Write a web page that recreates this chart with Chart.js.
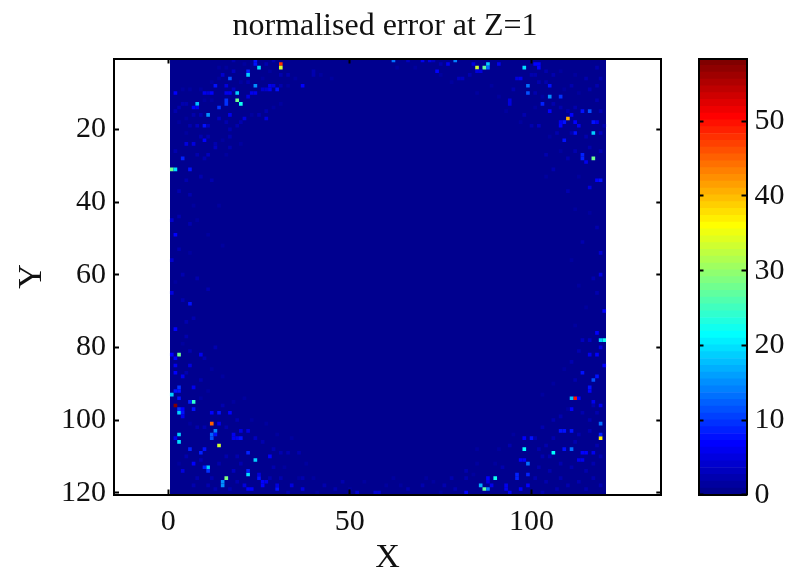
<!DOCTYPE html>
<html>
<head>
<meta charset="utf-8">
<script src="https://cdn.jsdelivr.net/npm/chart.js@4/dist/chart.umd.min.js"></script>
<style>
html, body { margin: 0; padding: 0; background: #fff; }
#wrap { position: relative; width: 801px; height: 572px; overflow: hidden; }
canvas { position: absolute; top: 0; }
</style>
</head>
<body>
<div id="wrap">
<canvas id="main" width="770" height="572" style="left:0"></canvas>
<canvas id="bar" width="121" height="572" style="left:680px"></canvas>
</div>
<script>
// cells: [column, row, error]. everything else is the background level
var cellsTopLeft = [
	[31,2,48],[31,3,33],[25,3,20],[24,1,8],[24,2,8],[22,5,19],[22,4,9],[17,6,11],[24,8,15],[13,8,8],
	[19,10,19],[19,12,28],[20,13,22],[16,12,10],[16,13,10],[8,13,18],[11,16,15],[14,14,10],[2,10,7],
	[10,10,6],[12,10,7],[11,10,5],[10,19,8],[10,23,7],[17,16,6],[27,17,5],[21,17,5],[30,9,8],[28,8,6],
	[28,9,6],[29,8,5],[27,9,4],[26,9,4],[23,10,6],[24,10,6],[22,11,5],[16,8,5],[17,10,6],[16,10,6],
	[18,4,3],[15,5,4],[18,1,2],[5,24,5],[7,24,5],[4,28,9],[13,25,3],[11,27,3],[7,14,7],[8,14,6],[18,9,3],
	[4,13,2],[5,13,2],[3,14,2],[2,15,2],[7,16,2],[9,16,2],[5,17,1],[3,18,1],[6,19,2],[8,19,3],[11,19,3],
	[14,17,3],[16,18,2],[19,19,2],[17,20,2],[20,18,2],[25,16,2],[23,16,1],[27,15,2],[5,21,1],[9,22,2],
	[11,22,2],[13,24,2],[15,23,1],[17,22,2],[20,24,1],[17,25,2],[2,26,2],[8,27,2],[10,28,2],[16,27,1],
	[14,6,1],[12,7,1],[9,9,1],[6,9,1],[4,9,1],[16,3,1],[14,3,1],[27,2,2],[29,1,2],[33,5,2],[31,5,2],
	[31,8,2],[33,8,1],[31,13,1],[29,14,1],[28,4,1],[26,6,1],[21,2,1],[12,12,1],[10,12,1],[22,7,2],[20,7,1]
];
var cellsTopRight = [
	[62,1,13],[79,1,14],[70,1,6],[77,2,6],[85,3,33],[87,3,27],[88,2,19],[88,3,13],[98,3,20],[101,2,7],
	[102,3,7],[102,2,7],[74,4,7],[85,4,5],[86,4,5],[91,2,6],[84,2,5],[99,8,13],[99,10,11],[105,8,8],
	[105,11,15],[108,11,10],[103,13,9],[105,15,7],[114,15,8],[116,15,11],[110,17,41],[111,16,7],[109,18,8],
	[108,18,6],[112,18,7],[117,18,8],[118,18,6],[108,19,7],[113,19,6],[112,21,8],[117,21,19],[109,23,8],
	[114,27,9],[114,28,9],[117,28,28],[94,12,5],[94,13,5],[97,6,6],[96,6,5],[80,6,3],[81,6,3],[100,5,2],
	[101,5,2],[40,4,2],[40,5,2],[37,8,7],[35,6,1],[42,5,1],[45,6,1],[66,1,3],[72,1,5],[73,1,3],[75,2,2],
	[83,5,2],[78,7,1],[75,5,1],[68,3,1],[63,3,1],[104,4,2],[106,5,2],[108,4,1],[112,5,1],[115,6,2],[118,3,2],
	[119,6,2],[118,8,2],[116,9,2],[113,10,1],[111,8,2],[109,9,1],[104,7,2],[102,7,2],[101,10,2],[103,11,1],
	[106,13,2],[108,14,2],[110,15,2],[112,14,2],[118,12,2],[119,15,2],[120,19,2],[119,21,3],[115,22,2],[111,21,2],
	[107,21,2],[105,22,1],[102,19,3],[100,19,2],[116,25,2],[112,26,2],[108,26,1],[104,27,2],[110,28,2],[119,26,2],
	[95,9,2],[91,11,1],[93,15,1],[98,16,2],[101,14,1],[97,18,1],[89,8,1],[85,10,1]
];
var cellsBottomLeft = [
	[1,93,19],[2,92,8],[3,92,8],[3,94,8],[7,95,24],[6,95,9],[2,96,58],[3,98,19],[3,97,10],[4,98,8],[4,97,7],
	[4,99,6],[7,97,8],[12,98,7],[14,98,8],[17,98,7],[12,101,45],[14,101,6],[13,103,14],[12,104,12],[12,105,11],
	[13,104,8],[3,104,19],[3,106,20],[2,105,6],[14,107,33],[6,108,9],[10,108,8],[9,109,9],[24,111,19],[22,109,9],
	[28,110,7],[20,105,8],[19,105,6],[20,103,5],[22,103,5],[18,104,6],[18,105,6],[7,112,7],[11,113,19],[10,113,9],
	[11,114,10],[4,114,5],[22,115,20],[22,114,9],[16,116,29],[15,117,15],[15,118,15],[25,116,8],[25,115,5],
	[26,117,7],[26,118,7],[27,117,6],[30,119,8],[30,118,5],[23,119,7],[22,119,7],[34,118,5],[37,119,5],[48,117,2],
	[21,118,5],[52,120,4],[57,120,4],[58,120,4],[24,105,3],[26,106,2],[29,108,2],[31,109,2],[33,109,2],[36,109,2],
	[16,110,2],[19,110,2],[20,112,2],[14,112,2],[9,111,2],[5,110,2],[3,112,1],[8,116,2],[12,116,2],[18,114,3],
	[13,119,2],[11,118,2],[7,118,2],[17,119,2],[19,117,2],[29,113,2],[32,113,1],[28,116,2],[37,116,2],[40,116,1],
	[43,118,2],[46,119,2],[41,120,1],[33,120,2],[36,116,1],[31,116,2],[8,102,2],[10,102,2],[6,101,1],[16,102,2],
	[19,100,2],[23,100,1],[15,96,2],[18,95,1],[21,94,1],[9,94,1],[11,92,1],[27,101,1],[30,104,1],[34,105,1],[38,112,1],
	[54,117,1],[60,118,1],[50,119,1]
];
var cellsBottomRight = [
	[111,94,18],[112,94,50],[113,94,7],[116,92,7],[117,95,6],[111,97,7],[119,96,6],[119,101,13],[119,104,9],
	[119,105,37],[109,103,8],[108,103,8],[111,103,8],[98,105,7],[100,105,8],[98,108,21],[106,109,21],[111,108,13],
	[109,108,8],[115,109,7],[114,109,7],[117,109,6],[113,111,6],[114,111,6],[99,112,13],[97,111,7],[98,111,7],[99,115,9],
	[96,115,9],[96,116,9],[90,116,22],[88,116,7],[88,117,5],[86,118,17],[87,119,27],[88,119,14],[89,118,6],[93,118,6],
	[93,119,6],[97,119,7],[99,118,7],[82,114,2],[82,116,2],[66,119,2],[82,120,7],[94,120,6],[104,107,2],[102,108,2],
	[103,110,2],[105,110,2],[101,105,2],[106,105,2],[103,102,2],[106,100,2],[108,99,2],[110,97,1],[114,98,2],[116,100,2],
	[117,96,2],[118,98,2],[113,104,2],[116,103,2],[118,107,2],[112,106,2],[119,110,2],[117,112,2],[115,114,2],[111,113,2],
	[108,112,2],[105,114,2],[102,113,2],[101,116,2],[104,117,2],[108,116,2],[110,118,2],[113,117,2],[117,116,2],[119,118,2],
	[115,119,2],[107,119,2],[103,120,2],[92,113,2],[90,112,1],[85,112,1],[84,115,1],[78,116,2],[76,118,2],[73,117,1],
	[71,116,1],[70,118,2],[64,118,1],[62,116,1],[75,120,1],[79,119,2],[91,108,1],[94,107,2],[85,108,1],[95,104,1]
];
var cellsEdges = [
	[1,31,28],[2,31,20],[6,31,8],[2,49,7],[6,68,8],[2,75,7],[3,82,28],[1,82,7],[9,82,6],[6,81,2],[2,83,7],[2,85,6],[2,87,7],
	[4,88,6],[6,85,5],[1,65,5],[1,56,4],[1,45,4],[7,91,6],[3,91,10],[5,34,2],[9,33,2],[12,34,2],[3,37,2],[6,38,2],[7,41,1],
	[3,44,2],[6,46,2],[8,45,1],[14,41,1],[3,53,2],[6,54,1],[11,49,1],[15,52,1],[4,60,2],[8,61,2],[2,62,1],[11,64,2],[4,67,2],
	[5,73,2],[7,72,2],[5,77,2],[4,79,1],[13,80,2],[10,83,2],[5,87,2],[12,86,1],[15,88,1],[9,89,2],[118,34,7],[119,34,8],
	[115,29,6],[116,36,5],[120,70,7],[118,76,7],[119,78,19],[120,78,22],[114,78,3],[116,78,3],[119,80,5],[116,82,6],[118,82,7],
	[120,85,7],[114,87,8],[117,89,11],[118,88,8],[116,91,8],[119,60,5],[119,54,4],[110,37,2],[113,33,1],[106,31,2],[104,33,1],
	[116,43,1],[112,42,1],[118,47,2],[114,51,2],[111,56,1],[117,61,2],[113,63,1],[118,65,2],[115,69,1],[112,74,1],[113,81,2],
	[111,84,2],[109,86,1],[112,89,2],[106,90,1],[103,93,1]
];
var xTicks = [0, 50, 100];
var yTicks = [20, 40, 60, 80, 100, 120];
var colorTicks = [0, 10, 20, 30, 40, 50];
var colorMax = 58.4;
var backgroundError = 0.5;
var colorEdges = [0,.91,1.83,2.74,3.65,4.56,5.48,6.39,7.3,8.21,9.13,10.04,10.95,11.86,12.78,13.69,14.6,15.51,16.43,17.34,18.25,19.16,20.08,20.99,21.9,22.81,23.73,24.64,25.55,26.46,27.38,28.29,29.2,30.11,31.03,31.94,32.85,33.76,34.68,35.59,36.5,37.41,38.33,39.24,40.15,41.06,41.98,42.89,43.8,44.71,45.63,46.54,47.45,48.36,49.28,50.19,51.1,52.01,52.93,53.84,54.75,55.66,56.58,57.49,58.4];

var serif = '"Liberation Serif", "Times New Roman", serif';

// matlab style jet with 64 levels
function jet(v) {
	var idx = Math.min(63, Math.floor(v / colorMax * 64));
	var t = (idx + 1) / 64;
	var c = function (x) { return Math.round(255 * Math.max(0, Math.min(1, 1.5 - Math.abs(x)))); };
	return 'rgb(' + c(4 * t - 3) + ',' + c(4 * t - 2) + ',' + c(4 * t - 1) + ')';
}

var cells = cellsTopLeft.concat(cellsTopRight, cellsBottomLeft, cellsBottomRight, cellsEdges);
// low values first so the bright cells stay on top
cells.sort(function (a, b) { return b[2] - a[2]; });

function tickSetter(values) {
	return function (scale) {
		scale.ticks = values.map(function (v) { return { value: v }; });
	};
}
function fixedWidth(w) { return function (scale) { scale.width = w; }; }
function fixedHeight(h) { return function (scale) { scale.height = h; }; }

var edgeGrid = { drawOnChartArea: false, tickLength: -5, tickWidth: 2, tickColor: '#000', z: 1 };
var edgeBorder = { display: true, color: '#000', width: 2, z: 1 };

new Chart(document.getElementById('main'), {
	type: 'scatter',
	data: {
		datasets: [
			{
				label: 'error',
				data: cells.map(function (c) { return { x: c[0], y: c[1] }; }),
				pointStyle: 'rect',
				pointRadius: 2.57,
				pointBorderWidth: 0,
				pointBackgroundColor: cells.map(function (c) { return jet(c[2]); })
			},
			{
				label: 'background',
				type: 'line',
				data: [{ x: 0.5, y: 0.5 }, { x: 120.5, y: 0.5 }],
				pointRadius: 0,
				borderWidth: 0,
				fill: { value: 120.5 },
				backgroundColor: jet(backgroundError)
			}
		]
	},
	options: {
		responsive: false,
		animation: false,
		events: [],
		layout: { padding: 0 },
		plugins: {
			legend: { display: false },
			tooltip: { enabled: false },
			title: {
				display: true,
				text: 'normalised error at Z=1',
				color: '#111',
				font: { family: serif, size: 32, weight: 'normal' },
				padding: { top: 7.8, bottom: 12.3 }
			}
		},
		scales: {
			x: {
				type: 'linear', position: 'bottom', min: -14.9, max: 135.7,
				afterBuildTicks: tickSetter(xTicks), afterFit: fixedHeight(77.5),
				grid: edgeGrid, border: edgeBorder,
				ticks: { color: '#111', font: { family: serif, size: 30 }, padding: 14.5, maxRotation: 0 },
				title: { display: true, text: 'X', color: '#111', font: { family: serif, size: 34, lineHeight: 1 }, padding: { top: 0, bottom: -3 } }
			},
			x2: {
				type: 'linear', position: 'top', min: -14.9, max: 135.7,
				afterBuildTicks: tickSetter(xTicks), afterFit: fixedHeight(0),
				grid: edgeGrid, border: edgeBorder, ticks: { display: false }
			},
			y: {
				type: 'linear', position: 'left', reverse: true, min: 0.5, max: 120.5,
				afterBuildTicks: tickSetter(yTicks), afterFit: fixedWidth(114),
				grid: edgeGrid, border: edgeBorder,
				ticks: { color: '#111', font: { family: serif, size: 30 }, padding: 13 },
				title: { display: true, text: 'Y', color: '#111', font: { family: serif, size: 34, lineHeight: 1 }, padding: { top: 15, bottom: 0 } }
			},
			y2: {
				type: 'linear', position: 'right', reverse: true, min: 0.5, max: 120.5,
				afterBuildTicks: tickSetter(yTicks), afterFit: fixedWidth(108.7),
				grid: edgeGrid, border: edgeBorder, ticks: { display: false }
			}
		}
	}
});

// colorbar, one floating bar per colour level
var levels = colorEdges.slice(1).map(function (hi, i) { return [colorEdges[i], hi]; });

new Chart(document.getElementById('bar'), {
	type: 'bar',
	data: {
		labels: ['error'],
		datasets: levels.map(function (l) {
			return { data: [l], backgroundColor: jet((l[0] + l[1]) / 2), barPercentage: 1, categoryPercentage: 1, grouped: false, borderWidth: 0 };
		})
	},
	options: {
		responsive: false,
		animation: false,
		events: [],
		layout: { padding: { top: 58.5, bottom: 77.2 } },
		plugins: { legend: { display: false }, tooltip: { enabled: false } },
		scales: {
			x: { display: true, afterFit: fixedHeight(0), grid: { display: false }, ticks: { display: false }, border: edgeBorder },
			x2: { position: 'top', labels: ['error'], afterFit: fixedHeight(0), grid: { display: false }, ticks: { display: false }, border: edgeBorder },
			y: {
				position: 'left', min: 0, max: colorMax,
				afterBuildTicks: tickSetter(colorTicks), afterFit: fixedWidth(18.5),
				grid: edgeGrid, border: edgeBorder, ticks: { display: false }
			},
			y2: {
				position: 'right', min: 0, max: colorMax,
				afterBuildTicks: tickSetter(colorTicks), afterFit: fixedWidth(54.5),
				grid: edgeGrid, border: edgeBorder,
				ticks: { color: '#111', font: { family: serif, size: 30 }, padding: 13 }
			}
		}
	}
});
</script>
</body>
</html>
